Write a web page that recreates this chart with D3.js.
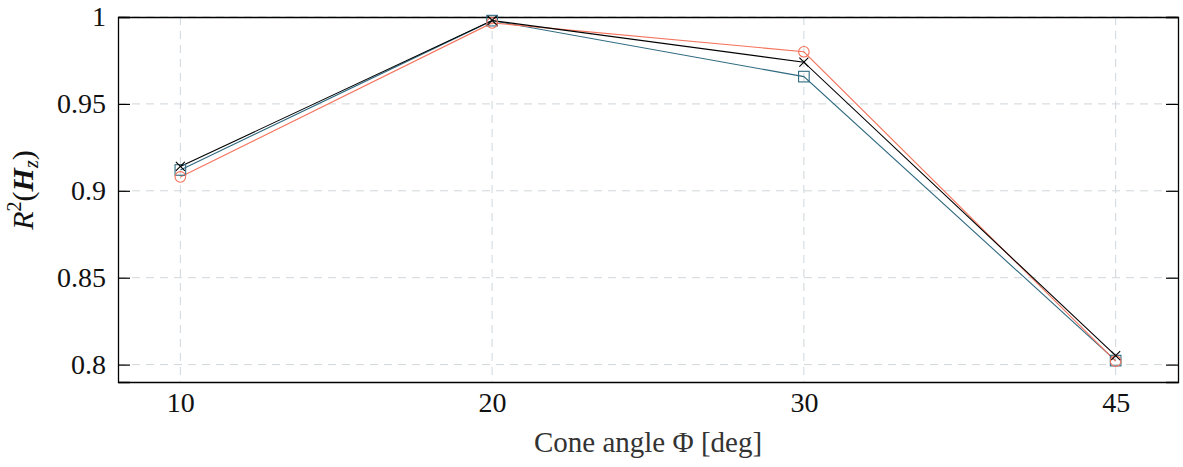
<!DOCTYPE html>
<html><head><meta charset="utf-8">
<script src="https://cdn.jsdelivr.net/npm/d3@7"></script>
<style>body{margin:0;background:#fff}svg{display:block}
svg text{font-family:'Liberation Serif','Times New Roman',serif;}</style>
</head><body>
<svg id="c" width="1183" height="467"></svg>
<script>
const categories = ["10","20","30","45"];
const seriesCircle = [0.908, 0.9966, 0.980, 0.802];
const seriesSquare = [0.912, 0.9979, 0.9657, 0.8023];
const seriesCross  = [0.914, 0.998, 0.974, 0.8052];
const yTicks = [0.8, 0.85, 0.9, 0.95, 1];
const yTickLabels = ["0.8","0.85","0.9","0.95","1"];

const svg = d3.select("#c");
const L = 118, R = 1178, T = 17, B = 382;
const x = d3.scalePoint().domain(categories).range([L, R]).padding(0.2);
const y = d3.scaleLinear().domain([0.79, 1.0]).range([B, T]);
const font = "'Liberation Serif','Times New Roman',serif";

// grid
const grid = svg.append("g").attr("stroke", "#cfd6da").attr("stroke-width", 1).attr("stroke-dasharray", "8,6");
grid.selectAll("line.h").data(yTicks).join("line")
  .attr("x1", L).attr("x2", R).attr("y1", d => y(d)).attr("y2", d => y(d));
grid.selectAll("line.v").data(categories).join("line")
  .attr("x1", d => x(d)).attr("x2", d => x(d)).attr("y1", T).attr("y2", B);

// axes
const yl = svg.append("g").attr("transform", `translate(${L},0)`)
  .call(d3.axisLeft(y).tickValues(yTicks).tickFormat((d,i) => yTickLabels[i]).tickSize(-12).tickPadding(12));
const yr = svg.append("g").attr("transform", `translate(${R},0)`)
  .call(d3.axisRight(y).tickValues(yTicks).tickFormat("").tickSize(-12));
const xb = svg.append("g").attr("transform", `translate(0,${B})`)
  .call(d3.axisBottom(x).tickSize(0).tickPadding(10.5));
const xt = svg.append("g").attr("transform", `translate(0,${T})`)
  .call(d3.axisTop(x).tickSize(0).tickFormat(""));
[yl, yr, xb, xt].forEach(g => {
  g.attr("font-family", null).attr("font-size", null);
  g.select(".domain").attr("stroke", "#000").attr("stroke-width", 1.3);
  g.selectAll(".tick line").attr("stroke", "#000").attr("stroke-width", 1.2);
  g.selectAll(".tick text").style("font-family", font).style("font-size", "28px").attr("fill", "#111");
});

// series
const series = [
  {vals: seriesSquare, color: "#2f6a80", marker: "square"},
  {vals: seriesCircle, color: "#f4735c", marker: "circle"},
  {vals: seriesCross, color: "#000000", marker: "cross"}
];
const line = d3.line().x((d,i) => x(categories[i])).y(d => y(d));
series.forEach(s => {
  svg.append("path").datum(s.vals).attr("d", line)
    .attr("fill", "none").attr("stroke", s.color).attr("stroke-width", 1.1);
});
series.forEach(s => {
  const g = svg.append("g").attr("stroke", s.color).attr("fill", "none").attr("stroke-width", 1.1);
  s.vals.forEach((v,i) => {
    const cx = x(categories[i]), cy = y(v);
    if (s.marker === "circle") g.append("circle").attr("cx", cx).attr("cy", cy).attr("r", 5.3);
    else if (s.marker === "square") g.append("rect").attr("x", cx-5.3).attr("y", cy-5.3).attr("width", 10.6).attr("height", 10.6);
    else {
      g.append("path").attr("d", `M${cx-4.5},${cy-4.5}L${cx+4.5},${cy+4.5}M${cx-4.5},${cy+4.5}L${cx+4.5},${cy-4.5}`);
    }
  });
});

// axis titles
svg.append("text").attr("x", 648).attr("y", 452).attr("text-anchor", "middle")
  .style("font-family", font).style("font-size", "29px").attr("fill", "#333").text("Cone angle Φ [deg]");
const yt = svg.append("text").attr("transform", "translate(33,190) rotate(-90)").attr("text-anchor", "middle")
  .style("font-family", font).style("font-size", "30px").attr("fill", "#111");
yt.append("tspan").attr("font-style", "italic").text("R");
yt.append("tspan").style("font-size", "20px").attr("dy", -12).text("2");
yt.append("tspan").attr("dy", 12).text("(");
yt.append("tspan").attr("font-style", "italic").attr("font-weight", "bold").text("H");
yt.append("tspan").attr("font-style", "italic").style("font-size", "20px").attr("dy", 5).text("z");
yt.append("tspan").attr("dy", -5).text(")");
</script>
</body></html>
